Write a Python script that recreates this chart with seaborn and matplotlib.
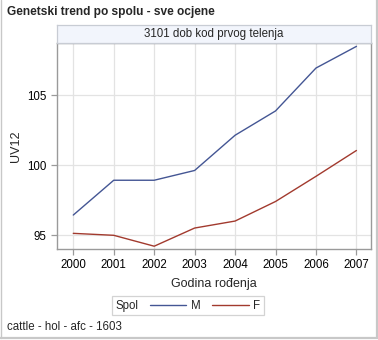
import matplotlib
matplotlib.use("Agg")
import matplotlib.pyplot as plt
import seaborn as sns
import pandas as pd
from matplotlib.lines import Line2D

years = [2000, 2001, 2002, 2003, 2004, 2005, 2006, 2007]
values_m = [96.43, 98.92, 98.92, 99.62, 102.14, 103.88, 106.95, 108.50]
values_f = [95.12, 94.98, 94.20, 95.50, 96.00, 97.40, 99.20, 101.05]
sexes = ["M", "F"]
y_ticks = [95, 100, 105]

title = "Genetski trend po spolu - sve ocjene"
header = "3101 dob kod prvog telenja"
xlabel = "Godina rođenja"
ylabel = "UV12"
legend_title = "Spol"
footnote = "cattle - hol - afc - 1603"

df = pd.DataFrame({
    "year": years * 2,
    "value": values_m + values_f,
    "Spol": [sexes[0]] * len(years) + [sexes[1]] * len(years),
})

sns.set_style("white")
plt.rcParams["font.family"] = ["Liberation Sans", "DejaVu Sans"]

W, H = 378, 340
fig = plt.figure(figsize=(W / 100, H / 100), dpi=100)

def fx(px):
    return px / W

def fy(py):
    return 1 - py / H

ax_l, ax_r, ax_t, ax_b = 56.7, 371.0, 43.3, 249.0
ax = fig.add_axes([fx(ax_l), fy(ax_b), fx(ax_r - ax_l), fy(ax_t) - fy(ax_b)])

palette = {"M": "#445694", "F": "#A23A2E"}
sns.lineplot(data=df, x="year", y="value", hue="Spol", palette=palette,
             ax=ax, linewidth=1.0, legend=True)

ax.set_xlim(1999.59, 2007.36)
ax.set_ylim(94.0, 108.72)
ax.set_xticks(years)
ax.set_xticklabels([str(y) for y in years])
ax.set_yticks(y_ticks)
ax.grid(True, color="#e3e3e3", linewidth=0.9)
ax.set_axisbelow(True)
for s in ax.spines.values():
    s.set_color("#9a9a9a")
    s.set_linewidth(1.0)
ax.tick_params(axis="both", which="both", length=4.5, width=0.9, color="#9a9a9a",
               labelsize=8.3, labelcolor="black", pad=3, direction="out",
               bottom=True, left=True)
ax.set_xlabel("")
ax.set_ylabel("")

handles, labels = ax.get_legend_handles_labels()
ax.get_legend().remove()

# Header strip
hx = fig.add_axes([fx(ax_l), fy(ax_t), fx(ax_r - ax_l), fy(24.5) - fy(ax_t)])
hx.set_facecolor("#f2f5fc")
hx.set_xticks([])
hx.set_yticks([])
for s in hx.spines.values():
    s.set_color("#c8ccd4")
    s.set_linewidth(0.9)
hx.text(0.5, 0.5, header, ha="center", va="center", fontsize=8.3,
        transform=hx.transAxes)

fig.text(fx(7), fy(12), title, ha="left", va="center", fontsize=8.6,
         fontweight="bold")
fig.text(fx(214), fy(284), xlabel, ha="center", va="center", fontsize=9)
fig.text(fx(16), fy(146), ylabel, ha="center", va="center", fontsize=9,
         rotation=90)
fig.text(fx(7), fy(327), footnote, ha="left", va="center", fontsize=8.3)

leg = fig.legend(handles, labels, title=legend_title, ncol=2,
                 loc="center", bbox_to_anchor=(fx(188), fy(305.8)),
                 frameon=True, fancybox=False, fontsize=8.3,
                 title_fontsize=8.3, handlelength=3.2, handletextpad=0.4,
                 columnspacing=0.5, borderpad=0.3, borderaxespad=0)
leg.get_frame().set_edgecolor("#c8c8c8")
leg.get_frame().set_linewidth(0.9)
# put legend title inline, to the left of the entries
c = leg.get_children()[0]
title_box = c.get_children()[0]
hpack = c.get_children()[1]
c._children = [hpack]
hpack._children = [title_box] + hpack.get_children()
hpack.sep = 8

# figure border (left, right, bottom)
border_col = "#c8c8c8"
fig.add_artist(Line2D([fx(0.5), fx(0.5)], [fy(0), fy(338)], color=border_col,
                      linewidth=1.0, transform=fig.transFigure))
fig.add_artist(Line2D([fx(377), fx(377)], [fy(0), fy(338)], color=border_col,
                      linewidth=1.6, transform=fig.transFigure))
fig.add_artist(Line2D([fx(0), fx(378)], [fy(338.2), fy(338.2)], color=border_col,
                      linewidth=1.6, transform=fig.transFigure))

fig.savefig("out.png", dpi=100)
